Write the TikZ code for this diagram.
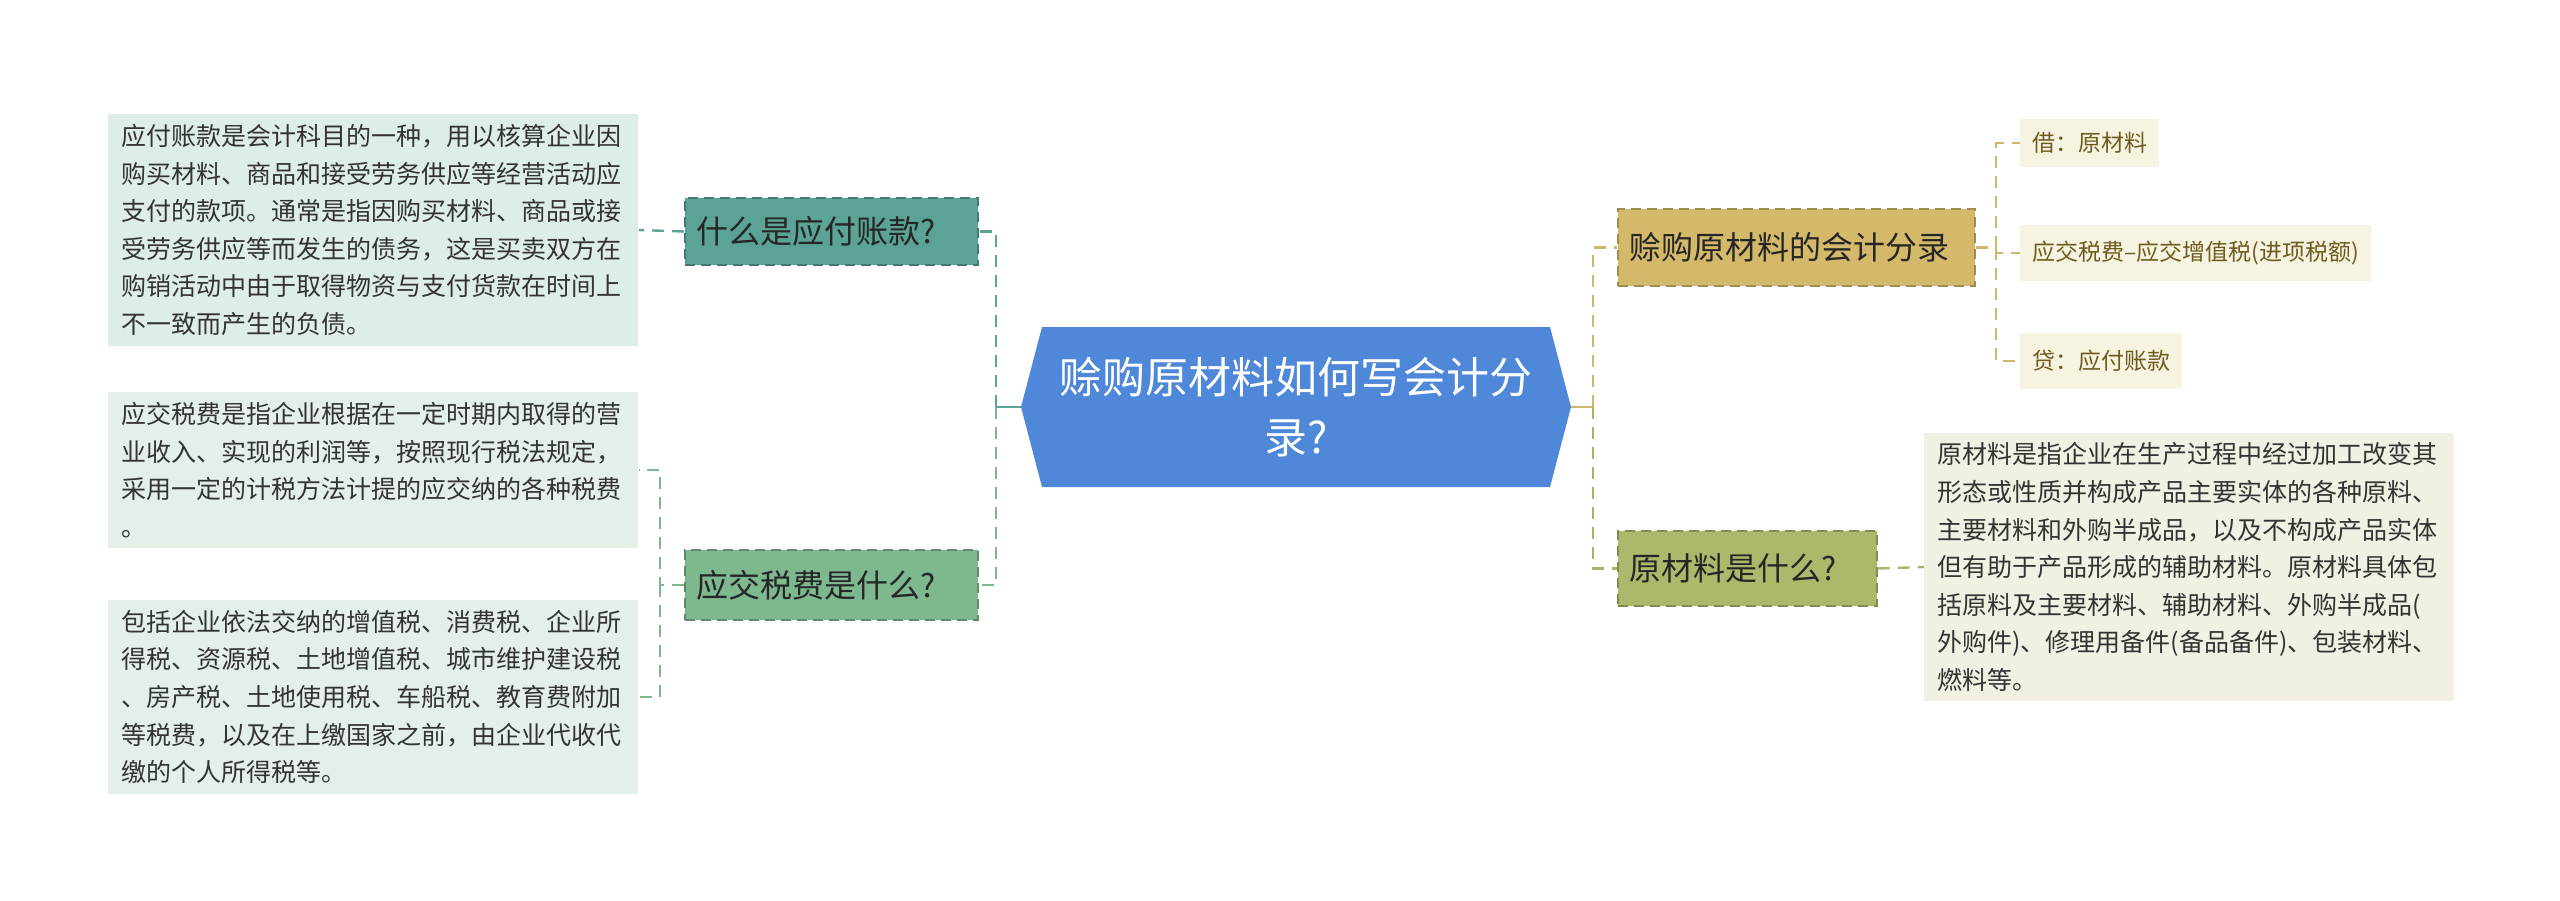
\documentclass[tikz,border=0pt]{standalone}
\usepackage{fontspec}
\setmainfont{Noto Sans CJK SC}
\begin{document}
\begin{tikzpicture}[x=0.5pt,y=-0.5pt,
  conn/.style={line width=1.2pt,dash pattern=on 6pt off 4pt},
  mainnode/.style={draw=#1!75!black,dash pattern=on 5pt off 3pt,line width=0.8pt,fill=#1,anchor=west,inner xsep=6pt,align=left,font=\fontsize{16}{20}\selectfont,text=black!85},
  txtbox/.style={fill=#1,anchor=west,inner xsep=6.5pt,inner ysep=5pt,text width=252pt,align=left,font=\fontsize{12.5}{18.8}\selectfont,text=black!80},
  leaf/.style={fill=leafc,anchor=west,inner xsep=6pt,minimum height=#1,align=left,font=\fontsize{11.5}{14}\selectfont,text=leaftxt}
]
\definecolor{cblue}{HTML}{4F87D9}
\definecolor{teal1}{HTML}{5AA395}
\definecolor{green2}{HTML}{7DB88F}
\definecolor{gold}{HTML}{D5B96A}
\definecolor{olive}{HTML}{AEB86B}
\definecolor{lb1}{HTML}{DDEDEA}
\definecolor{lb2}{HTML}{E4F0E7}
\definecolor{leafc}{HTML}{F6F3E0}
\definecolor{rbox}{HTML}{F1F0E3}
\definecolor{leaftxt}{HTML}{6E5C1E}
\definecolor{goldline}{HTML}{CDB86E}
\definecolor{oliveline}{HTML}{A9B46A}
\useasboundingbox (0,0) rectangle (2560,900);
% center
\fill[cblue] (1042,327) -- (1550,327) -- (1571,407) -- (1550,487) -- (1042,487) -- (1021,407) -- cycle;
\node[text=white,align=center,font=\fontsize{21.5}{30}\selectfont] (c) at (1296,407) {赊购原材料如何写会计分\\录?};
\coordinate (cw) at (1021,407);
\coordinate (ce) at (1571,407);
% left main nodes
\node[mainnode=teal1,minimum width=146.5pt,minimum height=33.5pt,text width=134.5pt] (n1) at (684,231.5) {什么是应付账款?};
\node[mainnode=green2,minimum width=146.5pt,minimum height=35pt,text width=134.5pt] (n2) at (684,585) {应交税费是什么?};
% left boxes
\node[txtbox=lb1] (b1) at (108,230) {应付账款是会计科目的一种，用以核算企业因\\购买材料、商品和接受劳务供应等经营活动应\\支付的款项。通常是指因购买材料、商品或接\\受劳务供应等而发生的债务，这是买卖双方在\\购销活动中由于取得物资与支付货款在时间上\\不一致而产生的负债。};
\node[txtbox=lb2] (b2) at (108,470) {应交税费是指企业根据在一定时期内取得的营\\业收入、实现的利润等，按照现行税法规定，\\采用一定的计税方法计提的应交纳的各种税费\\。};
\node[txtbox=lb2] (b3) at (108,697) {包括企业依法交纳的增值税、消费税、企业所\\得税、资源税、土地增值税、城市维护建设税\\、房产税、土地使用税、车船税、教育费附加\\等税费，以及在上缴国家之前，由企业代收代\\缴的个人所得税等。};
% right main nodes
\node[mainnode=gold,minimum width=178.5pt,minimum height=38.5pt,text width=166.5pt] (r1) at (1617,247.5) {赊购原材料的会计分录};
\node[mainnode=olive,minimum width=129.5pt,minimum height=37.5pt,text width=117.5pt] (r2) at (1617,568.5) {原材料是什么?};
% leaves
\node[leaf=24pt] (l1) at (2020,143) {借：原材料};
\node[leaf=28pt] (l2) at (2020,253) {应交税费--应交增值税(进项税额)};
\node[leaf=28pt] (l3) at (2020,361) {贷：应付账款};
\node[txtbox=rbox] (rb) at (1924,567) {原材料是指企业在生产过程中经过加工改变其\\形态或性质并构成产品主要实体的各种原料、\\主要材料和外购半成品，以及不构成产品实体\\但有助于产品形成的辅助材料。原材料具体包\\括原料及主要材料、辅助材料、外购半成品(\\外购件)、修理用备件(备品备件)、包装材料、\\燃料等。};
% connectors
\coordinate (jl) at (996,407);
\coordinate (jl2) at (660,585);
\coordinate (jr) at (1593,407);
\coordinate (jr2) at (1996,247.5);
\draw[teal1,line width=1.4pt] (cw) -- (jl);
\draw[teal1,conn] (jl) |- (n1.east);
\draw[green2,conn] (jl) |- (n2.east);
\draw[teal1,conn] (n1.west) -- (b1.east);
\draw[green2,conn] (n2.west) -- (jl2) |- (b2.east);
\draw[green2,conn] (jl2) |- (b3.east);
\draw[goldline,line width=1.4pt] (ce) -- (jr);
\draw[goldline,conn] (jr) |- (r1.west);
\draw[oliveline,conn] (jr) |- (r2.west);
\draw[goldline,conn] (r1.east) -- (jr2);
\draw[goldline,conn] (jr2) |- (l1.west);
\draw[goldline,conn] (jr2) |- (l2.west);
\draw[goldline,conn] (jr2) |- (l3.west);
\draw[oliveline,conn] (r2.east) -- (rb.west);
\end{tikzpicture}
\end{document}
